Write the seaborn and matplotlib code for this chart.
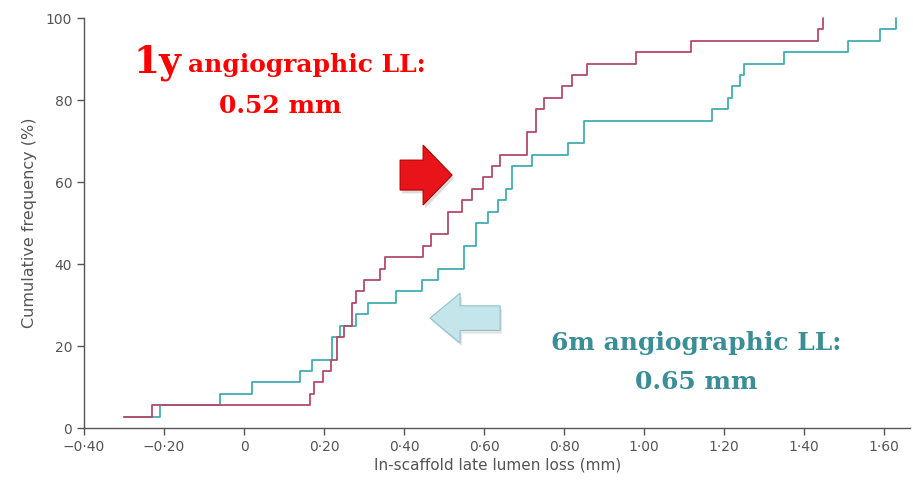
import numpy as np
import matplotlib
matplotlib.use("Agg")
import matplotlib.pyplot as plt
from matplotlib.patches import FancyArrow
import seaborn as sns

# in-scaffold late lumen loss (mm), one value per lesion
loss_1y = [-0.30, -0.23, 0.165, 0.175, 0.1975, 0.2175, 0.2325, 0.2325, 0.25,
           0.27, 0.27, 0.28, 0.30, 0.34, 0.3525, 0.4475, 0.4675, 0.51, 0.51,
           0.545, 0.57, 0.5975, 0.62, 0.64, 0.7075, 0.7075, 0.73, 0.73, 0.75,
           0.795, 0.82, 0.8575, 0.98, 1.1175, 1.435, 1.4475]
loss_6m = [-0.30, -0.21, -0.06, 0.02, 0.14, 0.17, 0.22, 0.22, 0.24, 0.28,
           0.31, 0.38, 0.445, 0.485, 0.55, 0.55, 0.58, 0.58, 0.61, 0.635,
           0.655, 0.67, 0.67, 0.72, 0.81, 0.85, 0.85, 1.17, 1.21, 1.22, 1.24,
           1.25, 1.35, 1.51, 1.59, 1.63]

xticks = [-0.40, -0.20, 0, 0.20, 0.40, 0.60, 0.80, 1.00, 1.20, 1.40, 1.60]
xticklabels = ["\u22120\u00b740", "\u22120\u00b720", "0", "0\u00b720", "0\u00b740", "0\u00b760",
               "0\u00b780", "1\u00b700", "1\u00b720", "1\u00b740", "1\u00b760"]
yticks = [0, 20, 40, 60, 80, 100]

PINK = "#b44a6c"
TEAL = "#42aeb2"
GREY = "#555555"

sns.set_style("ticks")
plt.rcParams['font.family'] = ['DejaVu Sans']

fig = plt.figure(figsize=(9.13, 4.84), dpi=100)
ax = fig.add_axes([0.092, 0.1157, 0.905, 0.847])


def cum_steps(vals):
    x = np.sort(np.asarray(vals, dtype=float))
    y = np.arange(1, len(x) + 1) / len(x) * 100
    return x, y


for vals, col in [(loss_6m, TEAL), (loss_1y, PINK)]:
    x, y = cum_steps(vals)
    sns.lineplot(x=x, y=y, estimator=None, sort=False, drawstyle="steps-post",
                 color=col, lw=1.3, ax=ax, clip_on=False)

ax.set_xlim(-0.40, 1.665)
ax.set_ylim(0, 100)
ax.set_xticks(xticks)
ax.set_xticklabels(xticklabels)
ax.set_yticks(yticks)
ax.tick_params(colors=GREY, labelcolor=GREY, labelsize=10, length=5, width=1)
for s in ["top", "right"]:
    ax.spines[s].set_visible(False)
for s in ["left", "bottom"]:
    ax.spines[s].set_color(GREY)
    ax.spines[s].set_linewidth(1)
ax.set_xlabel("In-scaffold late lumen loss (mm)", color=GREY, fontsize=11, labelpad=3)
ax.set_ylabel("Cumulative frequency (%)", color=GREY, fontsize=11.5, labelpad=6)

# annotations
serif = dict(family="DejaVu Serif", weight="bold")
ax.text(-0.2775, 86.8, "1y", color="#ff0000", fontsize=27, va="baseline", **serif)
ax.text(-0.14, 86.8, "angiographic LL:", color="#ff0000", fontsize=18, va="baseline", **serif)
ax.text(0.09, 76.8, "0.52 mm", color="#ff0000", fontsize=18, va="baseline", ha="center", **serif)
ax.text(1.131, 19, "6m angiographic LL:", color="#3b8e96", fontsize=18, va="baseline", ha="center", **serif)
ax.text(1.131, 9.5, "0.65 mm", color="#3b8e96", fontsize=18, va="baseline", ha="center", **serif)

# shaded arrows
ax.add_patch(FancyArrow(0.395, 60.9, 0.13, 0, width=7.3, head_width=14.6, head_length=0.0725,
                        length_includes_head=True, fc="#999999", ec="none", alpha=0.35))
ax.add_patch(FancyArrow(0.39, 61.7, 0.13, 0, width=7.3, head_width=14.6, head_length=0.0725,
                        length_includes_head=True, fc="#e8141a", ec="#b00000", lw=0.8))
ax.add_patch(FancyArrow(0.645, 26.0, -0.175, 0, width=6.0, head_width=12.2, head_length=0.075,
                        length_includes_head=True, fc="#aaaaaa", ec="none", alpha=0.3))
ax.add_patch(FancyArrow(0.64, 26.8, -0.175, 0, width=6.0, head_width=12.2, head_length=0.075,
                        length_includes_head=True, fc="#c4e6ea", ec="#8fc3c9", lw=0.8))

fig.savefig("out.png", dpi=100)
